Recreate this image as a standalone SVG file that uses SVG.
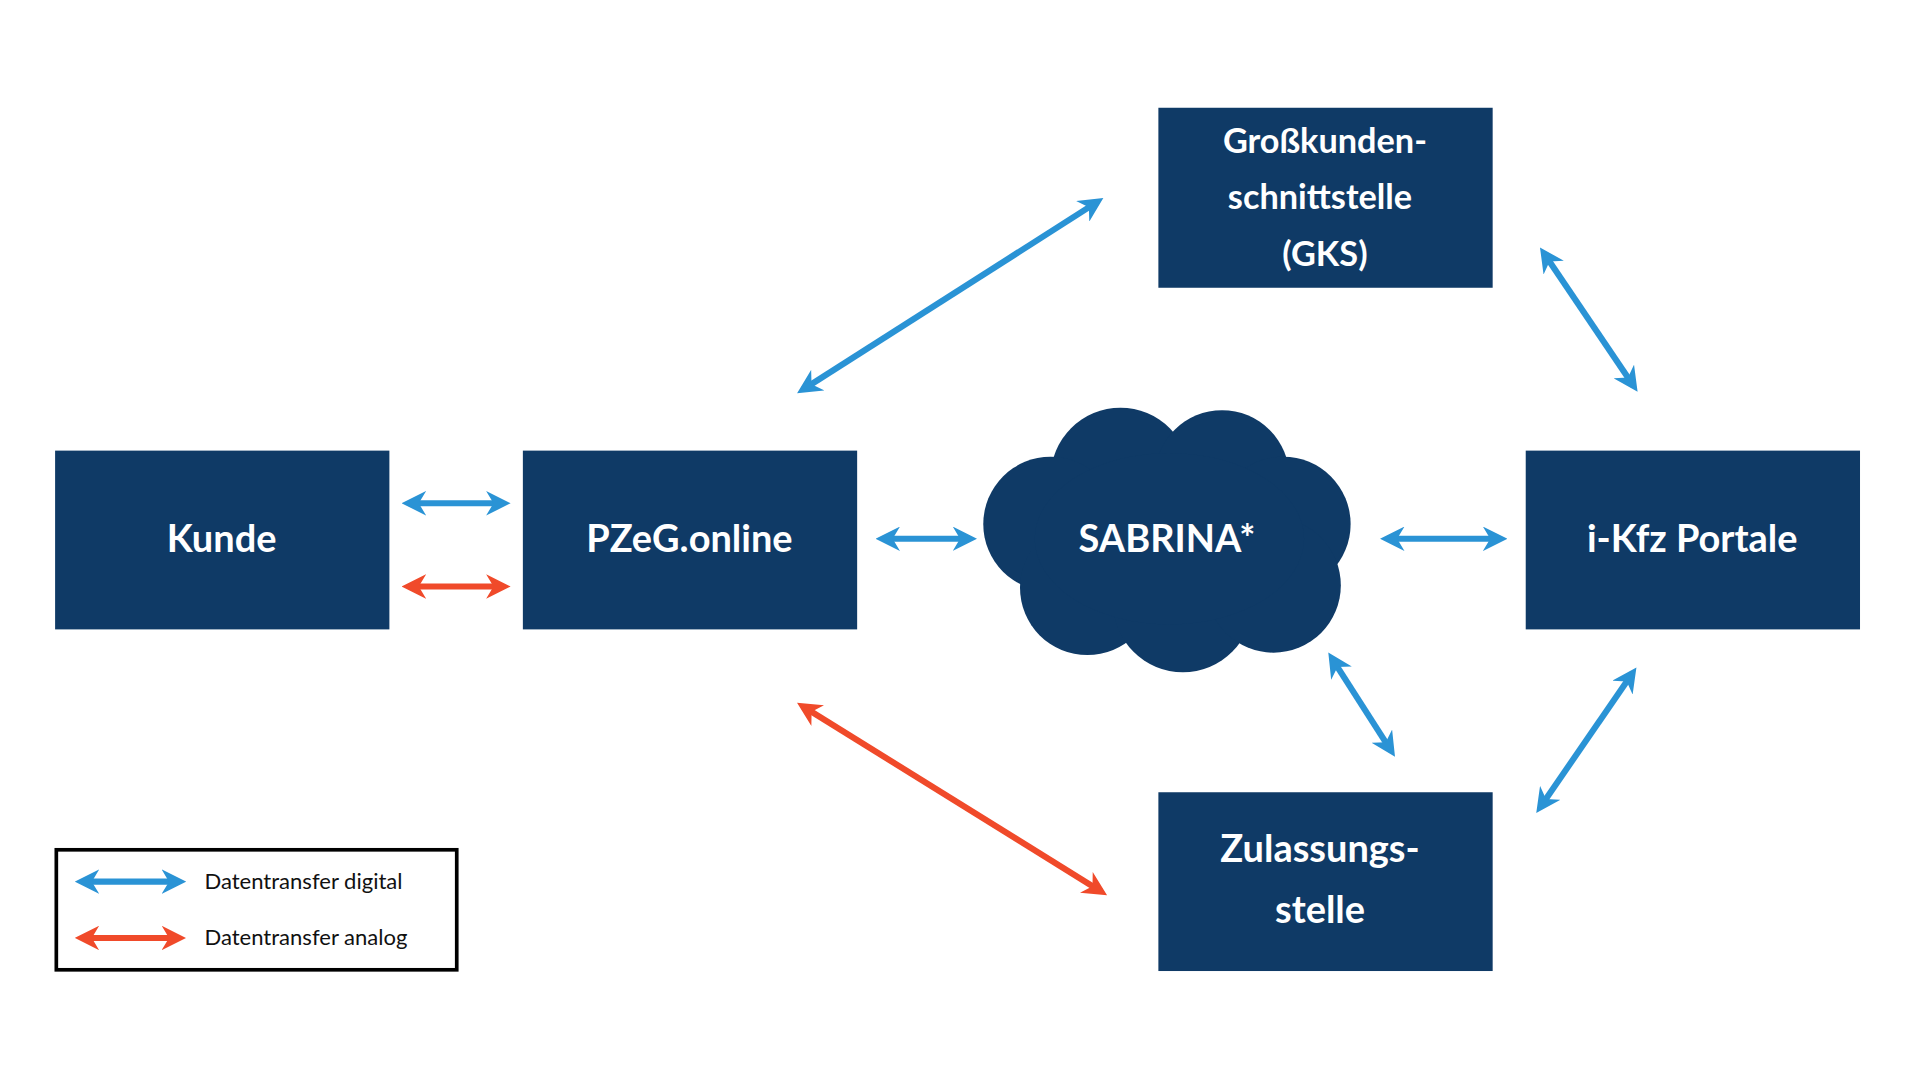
<svg xmlns="http://www.w3.org/2000/svg" width="1920" height="1080" viewBox="0 0 1920 1080">
<style>
.node{fill:#0f3a66}
.t{font-family:"Lato","Open Sans",sans-serif;font-weight:bold;fill:#fff;text-anchor:middle}
.b{stroke:#2a93d5;stroke-width:5;fill:none;marker-start:url(#mb);marker-end:url(#mb)}
.r{stroke:#f04a2a;stroke-width:5;fill:none;marker-start:url(#mr);marker-end:url(#mr)}
.lg{font-family:"Lato","Open Sans",sans-serif;font-size:18px;fill:#111}
</style>
<defs>
<marker id="mb" viewBox="0 0 10 10" refX="7" refY="5" markerWidth="4" markerHeight="4" orient="auto-start-reverse"><path d="M0,0 L10,5 L0,10 L3,5 z" fill="#2a93d5"/></marker>
<marker id="mr" viewBox="0 0 10 10" refX="7" refY="5" markerWidth="4" markerHeight="4" orient="auto-start-reverse"><path d="M0,0 L10,5 L0,10 L3,5 z" fill="#f04a2a"/></marker>
</defs>
<rect width="1920" height="1080" fill="#fff"/>
<g transform="scale(1.2245)">
<g id="kunde"><rect class="node" x="45" y="368" width="273" height="146"/><text class="t" x="181" y="451" font-size="31">Kunde</text></g>
<g id="pzeg"><rect class="node" x="427" y="368" width="273" height="146"/><text class="t" x="563" y="451" font-size="31">PZeG.online</text></g>
<g id="ikfz"><rect class="node" x="1246" y="368" width="273" height="146"/><text class="t" x="1382" y="451" font-size="31">i-Kfz Portale</text></g>
<g id="gks"><rect class="node" x="946" y="88" width="273" height="147"/><text class="t" x="1082" y="125" font-size="28">Großkunden-</text><text class="t" x="1078" y="171" font-size="28">schnittstelle</text><text class="t" x="1082" y="217" font-size="28">(GKS)</text></g>
<g id="zul"><rect class="node" x="946" y="647" width="273" height="146"/><text class="t" x="1078" y="704" font-size="31">Zulassungs-</text><text class="t" x="1078" y="754" font-size="31">stelle</text></g>
<g id="sabrina" fill="#0f3a66">
<circle cx="915" cy="390" r="57"/><circle cx="998" cy="390" r="55"/><circle cx="858" cy="428" r="55"/><circle cx="1048" cy="428" r="55"/><circle cx="888" cy="480" r="55"/><circle cx="966" cy="492" r="57"/><circle cx="1040" cy="478" r="55"/><ellipse cx="955" cy="440" rx="110" ry="70"/>
<text class="t" x="953" y="451" font-size="31">SABRINA*</text></g>
<g id="connectors">
<line class="b" x1="334" y1="411" x2="411" y2="411"/>
<line class="r" x1="334" y1="479" x2="411" y2="479"/>
<line class="b" x1="721" y1="440" x2="792" y2="440"/>
<line class="b" x1="1133" y1="440" x2="1225" y2="440"/>
<line class="b" x1="656" y1="318" x2="896" y2="165"/>
<line class="b" x1="1261" y1="207" x2="1334" y2="315"/>
<line class="b" x1="1088" y1="538" x2="1136" y2="613"/>
<line class="b" x1="1333" y1="550" x2="1258" y2="659"/>
<line class="r" x1="656" y1="577" x2="899" y2="728"/>
</g>
<g id="legend">
<rect x="46" y="694" width="327" height="98" fill="none" stroke="#000" stroke-width="3"/>
<line class="b" x1="67" y1="720" x2="146" y2="720"/>
<line class="r" x1="67" y1="766" x2="146" y2="766"/>
<text class="lg" x="167" y="726">Datentransfer digital</text>
<text class="lg" x="167" y="772">Datentransfer analog</text>
</g>
</g>
</svg>
